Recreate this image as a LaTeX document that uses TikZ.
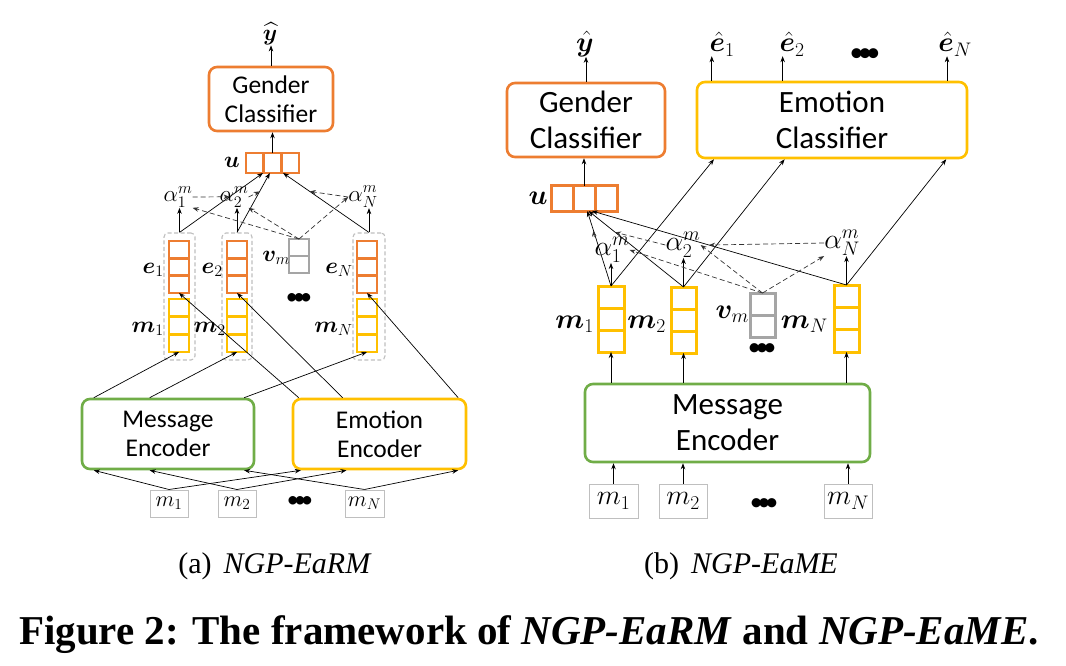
\RequirePackage{fix-cm}
\documentclass[tikz,border=0pt]{standalone}
\usepackage{amsmath,bm}
\usepackage{fontspec}
\newfontfamily\boxfont{Carlito}
\newfontfamily\capfont{Liberation Serif}
\usetikzlibrary{calc,arrows.meta}
\definecolor{cOr}{HTML}{ED7D31}
\definecolor{cYe}{HTML}{FFC000}
\definecolor{cGr}{HTML}{70AD47}
\definecolor{cGy}{HTML}{A5A5A5}
\definecolor{cDa}{HTML}{BFBFBF}
\newcommand{\vvec}[8]{% name,x,y,w,h,ncells,color,lw
  \node[cellbox, draw=#7, line width=#8, minimum width=#4pt, minimum height=#5pt] (#1) at (#2,#3) {};
  \pgfmathtruncatemacro\nlast{#6-1}
  \foreach \k in {1,...,\nlast}{\draw[#7, line width=#8] ($(#1.north west)!\k/#6!(#1.south west)$) -- ($(#1.north east)!\k/#6!(#1.south east)$);}
}
\newcommand{\hvec}[8]{% name,x,y,w,h,ncells,color,lw
  \node[cellbox, draw=#7, line width=#8, minimum width=#4pt, minimum height=#5pt] (#1) at (#2,#3) {};
  \pgfmathtruncatemacro\nlast{#6-1}
  \foreach \k in {1,...,\nlast}{\draw[#7, line width=#8] ($(#1.north west)!\k/#6!(#1.north east)$) -- ($(#1.south west)!\k/#6!(#1.south east)$);}
}
\newcommand{\threedots}[1]{{\boxfont\fontsize{#1}{#1}\selectfont •\kern-0.2em•\kern-0.2em•}}
\begin{document}
\begin{tikzpicture}[x=1pt,y=-1pt,
  conn/.style={-{Stealth[length=6pt,width=4.5pt]}, line width=0.7pt},
  dconn/.style={conn, dash pattern=on 5pt off 3pt, draw=black!80},
  bigbox/.style={draw, rounded corners=8pt, line width=2.6pt, inner sep=0, align=center},
  cellbox/.style={draw, inner sep=0, outer sep=0},
  grp/.style={draw=cDa, dash pattern=on 4pt off 2.5pt, rounded corners=4pt, line width=1.1pt, inner sep=0},
  inbox/.style={draw=cDa, line width=1pt, inner sep=0},
  lbl/.style={inner sep=0},
  fA/.style={font=\boxfont\fontsize{25.5}{29}\selectfont},
  fB/.style={font=\boxfont\fontsize{31}{36}\selectfont},
  mA/.style={lbl, font=\fontsize{23}{27}\selectfont},
  mAi/.style={lbl, font=\fontsize{22}{26}\selectfont},
  mB/.style={lbl, font=\fontsize{28}{33}\selectfont},
  dots/.style={lbl},
]
\path[fill=white,use as bounding box] (0,0) rectangle (1066,666);

%%%%%%%%%%%%%%%% (a) NGP-EaRM
\node[bigbox, fA, draw=cOr, minimum width=124pt, minimum height=64pt] (gcA) at (271,99) {Gender\\Classifier};
\node[mA] (yA) at (270,34) {$\widehat{\boldsymbol{y}}$};
\hvec{uA}{272.5}{163}{53}{20}{3}{cOr}{2.4pt}
\node[mA, anchor=east] (uAl) at (240,162) {$\boldsymbol{u}$};

\node[mA] (a1A) at (178,197) {$\alpha_1^m$};
\node[mA] (a2A) at (234,197) {$\alpha_2^m$};
\node[mA] (aNA) at (363,197) {$\alpha_N^m$};

\node[grp, minimum width=31pt, minimum height=127pt] (g1A) at (179.5,296.5) {};
\node[grp, minimum width=30pt, minimum height=127pt] (g2A) at (237,296.5) {};
\node[grp, minimum width=32pt, minimum height=127pt] (gNA) at (369,296.5) {};

\vvec{e1A}{179}{267}{20}{52}{3}{cOr}{2.4pt}
\vvec{m1A}{179}{325.5}{20}{53}{3}{cYe}{2.4pt}
\vvec{e2A}{237}{267}{20}{52}{3}{cOr}{2.4pt}
\vvec{m2A}{237}{325.5}{20}{53}{3}{cYe}{2.4pt}
\vvec{eNA}{367}{267}{20}{52}{3}{cOr}{2.4pt}
\vvec{mNA}{367}{325.5}{20}{53}{3}{cYe}{2.4pt}
\vvec{vA}{299}{256}{20}{34}{2}{cGy}{2.4pt}

\node[mA, anchor=east] (le1A) at (164,270) {$\boldsymbol{e}_1$};
\node[mA, anchor=east] (lm1A) at (164,329) {$\boldsymbol{m}_1$};
\node[mA, anchor=east] (le2A) at (223,270) {$\boldsymbol{e}_2$};
\node[mA, anchor=east] (lm2A) at (226,329) {$\boldsymbol{m}_2$};
\node[mA, anchor=east] (leNA) at (353,270) {$\boldsymbol{e}_N$};
\node[mA, anchor=east] (lmNA) at (353,329) {$\boldsymbol{m}_N$};
\node[mA, anchor=east] (lvA) at (290,258) {$\boldsymbol{v}_m$};
\node[dots] (dA1) at (299,299) {\threedots{24}};

\node[bigbox, fA, draw=cGr, minimum width=172pt, minimum height=70pt] (meA) at (168,434) {Message\\Encoder};
\node[bigbox, fA, draw=cYe, minimum width=173pt, minimum height=70pt] (eeA) at (379.5,434) {Emotion\\Encoder};

\node[inbox, mAi, minimum width=38pt, minimum height=27pt] (i1A) at (169,503.5) {$m_1$};
\node[inbox, mAi, minimum width=38pt, minimum height=27pt] (i2A) at (237,503.5) {$m_2$};
\node[inbox, mAi, minimum width=39pt, minimum height=27pt] (iNA) at (364.5,503.5) {$m_N$};
\node[dots] (dA2) at (300,502) {\threedots{24}};

% connectors (a)
\draw[conn] (gcA.north) -- (gcA.north |- yA.south);
\draw[conn] (uA.north) -- (uA.north |- gcA.south);
\foreach \g/\a in {g1A/a1A, g2A/a2A, gNA/aNA}{\draw[conn] (\g.north) -- (\g.north |- \a.south);}
\coordinate (u1A) at ($(uA.south west)!0.32!(uA.south east)$);
\coordinate (u2A) at ($(uA.south west)!0.45!(uA.south east)$);
\coordinate (uNA) at ($(uA.south west)!0.70!(uA.south east)$);
\draw[conn] (g1A.north) -- (u1A);
\draw[conn] (g2A.north) -- (u2A);
\draw[conn] (gNA.north) -- (uNA);
\draw[dconn] (a1A.east) -- ($(g1A.north)!0.6!(u1A)$);
\draw[dconn] (a2A.east) -- ($(g2A.north)!0.69!(u2A)$);
\draw[dconn] (aNA.west) -- ($(gNA.north)!0.69!(uNA)$);
\draw[dconn] (vA.north) -- (a1A.south east);
\draw[dconn] (vA.north) -- (a2A.south east);
\draw[dconn] (vA.north) -- (aNA.west);

\draw[conn] ($(meA.north west)!0.075!(meA.north east)$) -- (m1A.south);
\draw[conn] ($(meA.north west)!0.395!(meA.north east)$) -- (m2A.south);
\draw[conn] ($(meA.north west)!0.936!(meA.north east)$) -- (mNA.south);
\draw[conn] ($(eeA.north west)!0.04!(eeA.north east)$) -- (e1A.south);
\draw[conn] ($(eeA.north west)!0.29!(eeA.north east)$) -- (e2A.south);
\draw[conn] ($(eeA.north west)!0.948!(eeA.north east)$) -- (eNA.south);

\draw[conn] (i1A.north) -- ($(meA.south west)!0.075!(meA.south east)$);
\draw[conn] (i1A.north) -- ($(eeA.south west)!0.052!(eeA.south east)$);
\draw[conn] (i2A.north) -- ($(meA.south west)!0.395!(meA.south east)$);
\draw[conn] (i2A.north) -- ($(eeA.south west)!0.312!(eeA.south east)$);
\draw[conn] (iNA.north) -- ($(meA.south west)!0.936!(meA.south east)$);
\draw[conn] (iNA.north) -- ($(eeA.south west)!0.948!(eeA.south east)$);

%%%%%%%%%%%%%%%% (b) NGP-EaME
\node[bigbox, fB, draw=cOr, minimum width=158pt, minimum height=74pt] (gcB) at (586,120) {Gender\\Classifier};
\node[bigbox, fB, draw=cYe, minimum width=270pt, minimum height=76pt] (ecB) at (832,120) {Emotion\\Classifier};
\node[mB] (yB) at (585,44) {$\hat{\boldsymbol{y}}$};
\node[mB] (eh1B) at (722,44) {$\hat{\boldsymbol{e}}_1$};
\node[mB] (eh2B) at (792,44) {$\hat{\boldsymbol{e}}_2$};
\node[mB] (ehNB) at (955,44) {$\hat{\boldsymbol{e}}_N$};
\node[dots] (dB1) at (865,55) {\threedots{28}};

\hvec{uB}{584}{198.5}{66}{25}{3}{cOr}{3pt}
\node[mB, anchor=east] (uBl) at (548,198) {$\boldsymbol{u}$};

\node[mB] (a1B) at (612,250) {$\alpha_1^m$};
\node[mB] (a2B) at (683,245) {$\alpha_2^m$};
\node[mB] (aNB) at (842,243) {$\alpha_N^m$};

\vvec{m1B}{611}{319}{26}{66}{3}{cYe}{3pt}
\vvec{m2B}{683.5}{320}{25}{66}{3}{cYe}{3pt}
\vvec{mNB}{846.5}{318.5}{25}{67}{3}{cYe}{3pt}
\vvec{vB}{762.5}{315}{25}{44}{2}{cGy}{3pt}
\node[dots] (dB2) at (762,350) {\threedots{26}};

\node[mB, anchor=east] (lm1B) at (594,324) {$\boldsymbol{m}_1$};
\node[mB, anchor=east] (lm2B) at (666,324) {$\boldsymbol{m}_2$};
\node[mB, anchor=east] (lvB) at (749,314) {$\boldsymbol{v}_m$};
\node[mB, anchor=east] (lmNB) at (828,324) {$\boldsymbol{m}_N$};

\node[bigbox, fB, draw=cGr, minimum width=285pt, minimum height=78pt] (meB) at (727.5,423) {Message\\Encoder};
\node[inbox, mB, minimum width=49pt, minimum height=34pt] (i1B) at (613.5,501) {$m_1$};
\node[inbox, mB, minimum width=48pt, minimum height=34pt] (i2B) at (683,501) {$m_2$};
\node[inbox, mB, minimum width=48pt, minimum height=34pt] (iNB) at (848,501) {$m_N$};
\node[dots] (dB3) at (764,505) {\threedots{26}};

% connectors (b)
\draw[conn] (gcB.north) -- (gcB.north |- yB.south);
\draw[conn] (uB.north) -- (uB.north |- gcB.south);
\foreach \f/\e in {0.059/eh1B, 0.319/eh2B, 0.922/ehNB}{
  \coordinate (t) at ($(ecB.north west)!\f!(ecB.north east)$);
  \draw[conn] (t) -- (t |- \e.south);}
\foreach \i in {i1B, i2B, iNB}{\draw[conn] (\i.north) -- (\i.north |- meB.south);}
\foreach \m in {m1B, m2B, mNB}{\draw[conn] (meB.north -| \m.south) -- (\m.south);}
\foreach \m/\a in {m1B/a1B, m2B/a2B, mNB/aNB}{\draw[conn] (\m.north) -- (\m.north |- \a.south);}
\coordinate (u1B) at ($(uB.south west)!0.55!(uB.south east)$);
\coordinate (u2B) at ($(uB.south west)!0.57!(uB.south east)$);
\coordinate (uNB) at ($(uB.south west)!0.62!(uB.south east)$);
\draw[conn] (m1B.north) -- (u1B);
\draw[conn] (m2B.north) -- (u2B);
\draw[conn] (mNB.north) -- (uNB);
\draw[conn] (m1B.north) -- ($(ecB.south west)!0.067!(ecB.south east)$);
\draw[conn] (m2B.north) -- ($(ecB.south west)!0.326!(ecB.south east)$);
\draw[conn] (mNB.north) -- ($(ecB.south west)!0.919!(ecB.south east)$);
\draw[dconn] (vB.north) -- (a1B.east);
\draw[dconn] (vB.north) -- (a2B.east);
\draw[dconn] (vB.north) -- (aNB.south west);
\draw[dconn] (a1B.north west) -- ($(m1B.north)!0.74!(u1B)$);
\draw[dconn] (a2B.west) -- ($(m2B.north)!0.72!(u2B)$);
\draw[dconn] (aNB.west) -- ($(mNB.north)!0.54!(uNB)$);

%%%%%%%%%%%%%%%% captions
\node[lbl, font=\capfont\fontsize{30}{36}\selectfont] (capA) at (275,566) {(a)\hspace{0.4em}\textit{NGP-EaRM}};
\node[lbl, font=\capfont\fontsize{30}{36}\selectfont] (capB) at (741,566) {(b)\hspace{0.4em}\textit{NGP-EaME}};
\node[lbl, font=\capfont\bfseries\fontsize{41}{48}\selectfont] (capM) at (529,635) {Figure 2: The framework of \textit{NGP-EaRM} and \textit{NGP-EaME}.};
\end{tikzpicture}
\end{document}
